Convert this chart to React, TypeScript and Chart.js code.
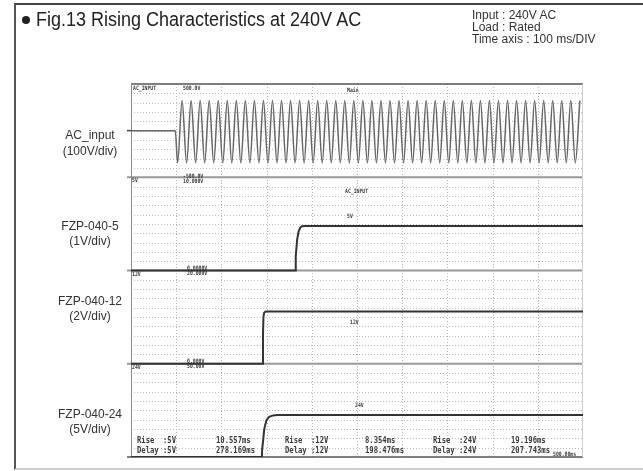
import React, { useEffect, useRef } from "react";
import { Chart, registerables } from "chart.js";

Chart.register(...registerables);

// ---------------- data ----------------
// time axis: 100 ms/div, 10 divisions
const timeMin = 0;
const timeMax = 1000;
const totalDivs = 40; // four stacked channel windows, 10 div each

const channelNames = ["AC_input", "FZP-040-5", "FZP-040-12", "FZP-040-24"];
const channelScales = ["(100V/div)", "(1V/div)", "(2V/div)", "(5V/div)"];
const voltsPerDiv = [100, 1, 2, 5];
const zeroDiv = [35, 20, 10, 0];

// AC input: off until onset, then 50 Hz mains (peak every 10 ms)
const acOnsetMs = 98;
const acFirstPeakMs = 103;
const acPeakSpacingMs = 10;
const acPeakVolts = [
  -346, 322, -346, 322, -346, 322, -346, 322, -346, 322,
  -346, 322, -346, 322, -346, 322, -346, 322, -346, 322,
  -346, 322, -346, 322, -346, 322, -346, 322, -346, 322,
  -346, 322, -346, 322, -346, 322, -346, 322, -346, 322,
  -346, 322, -346, 322, -346, 322, -346, 322, -346, 322,
  -346, 322, -346, 322, -346, 322, -346, 322, -346, 322,
  -346, 322, -346, 322, -346, 322, -346, 322, -346, 322,
  -346, 322, -346, 322, -346, 322, -346, 322, -346, 322,
  -346, 322, -346, 322, -346, 322, -346, 322, -346, 322,
];

// output 5V
const v5Times = [0, 363, 364.5, 367.5, 371, 374.5, 378, 384, 1000];
const v5Volts = [0, 0, 1.5, 3.3, 4.2, 4.6, 4.75, 4.78, 4.78];

// output 12V
const v12Times = [0, 291, 292, 293, 294.5, 297, 301, 1000];
const v12Volts = [0, 0, 6, 10, 10.9, 11.15, 11.2, 11.2];

// output 24V
const v24Times = [0, 289.5, 290.1, 292.4, 294.6, 296.8, 300.1, 305.6, 314.5, 323.4, 1000];
const v24Volts = [0, 0, 3.8, 9.1, 14.5, 17.2, 19.9, 21.5, 22.3, 22.55, 22.55];

// measurement read-out of the scope
const riseLabels = ["Rise  :5V", "Rise  :12V", "Rise  :24V"];
const riseValues = ["10.557ms", "8.354ms", "19.196ms"];
const delayLabels = ["Delay :5V", "Delay :12V", "Delay :24V"];
const delayValues = ["278.169ms", "198.476ms", "207.743ms"];
const timeReadout = "500.00ms";

const titleText = "Fig.13 Rising Characteristics at 240V AC";
const infoLines = ["Input : 240V AC", "Load : Rated", "Time axis : 100 ms/DIV"];

// ---------------- helpers ----------------
function toDivs(ch: number, volts: number) {
  return zeroDiv[ch] + volts / voltsPerDiv[ch];
}

function acPoints() {
  const pts: { x: number; y: number }[] = [
    { x: timeMin, y: toDivs(0, 0) },
    { x: acOnsetMs, y: toDivs(0, 0) },
  ];
  acPeakVolts.forEach((v, i) => {
    pts.push({ x: acFirstPeakMs + i * acPeakSpacingMs, y: toDivs(0, v) });
  });
  return pts;
}

function dcPoints(ch: number, times: number[], volts: number[]) {
  return times.map((t, i) => ({ x: t, y: toDivs(ch, volts[i]) }));
}

const scopePlugin = {
  id: "scopeGrid",
  beforeDatasetsDraw(chart: any) {
    const { ctx, chartArea: a, scales } = chart;
    const xs = scales.x;
    const ys = scales.y;
    ctx.save();
    // horizontal dotted grid
    ctx.strokeStyle = "#bcbcbc";
    ctx.lineWidth = 1;
    ctx.setLineDash([1, 2]);
    for (let d = 1; d < totalDivs; d++) {
      if (d % 10 === 0) continue;
      const y = Math.round(ys.getPixelForValue(d)) + 0.5;
      ctx.beginPath();
      ctx.moveTo(a.left, y);
      ctx.lineTo(a.right, y);
      ctx.stroke();
    }
    // vertical dotted grid every 100 ms
    ctx.strokeStyle = "#b8b8b8";
    for (let t = 100; t < timeMax; t += 100) {
      const x = Math.round(xs.getPixelForValue(t)) + 0.5;
      ctx.beginPath();
      ctx.moveTo(x, a.top);
      ctx.lineTo(x, a.bottom);
      ctx.stroke();
    }
    ctx.setLineDash([]);
    // window separators
    ctx.strokeStyle = "#999";
    ctx.lineWidth = 2;
    [10, 20, 30].forEach((d) => {
      const y = ys.getPixelForValue(d);
      ctx.beginPath();
      ctx.moveTo(a.left - 4, y);
      ctx.lineTo(a.right, y);
      ctx.stroke();
    });
    // frame of the scope
    ctx.strokeStyle = "#555";
    ctx.lineWidth = 1.5;
    ctx.beginPath();
    ctx.moveTo(a.left, a.top);
    ctx.lineTo(a.right, a.top);
    ctx.stroke();
    ctx.beginPath();
    ctx.moveTo(a.left - 4, a.bottom);
    ctx.lineTo(a.right, a.bottom);
    ctx.stroke();
    ctx.strokeStyle = "#8a8a8a";
    ctx.lineWidth = 1;
    ctx.beginPath();
    ctx.moveTo(a.left + 0.5, a.top);
    ctx.lineTo(a.left + 0.5, a.bottom);
    ctx.stroke();
    ctx.strokeStyle = "#cfcfcf";
    ctx.beginPath();
    ctx.moveTo(a.right - 0.5, a.top);
    ctx.lineTo(a.right - 0.5, a.bottom);
    ctx.stroke();
    // AC zero marker
    ctx.strokeStyle = "#444";
    ctx.lineWidth = 1.5;
    const yac = ys.getPixelForValue(zeroDiv[0]);
    ctx.beginPath();
    ctx.moveTo(a.left - 4, yac);
    ctx.lineTo(a.left, yac);
    ctx.stroke();
    ctx.restore();
  },
  afterDatasetsDraw(chart: any) {
    const { ctx, chartArea: a, scales } = chart;
    const ys = scales.y;
    ctx.save();
    ctx.fillStyle = "#3a3a3a";
    ctx.textBaseline = "alphabetic";
    const tiny = (txt: string, x: number, y: number, size = 6) => {
      ctx.save();
      ctx.translate(x, y);
      ctx.scale(0.8, 1);
      ctx.font = `bold ${size}px "DejaVu Sans Mono"`;
      ctx.fillText(txt, 0, 0);
      ctx.restore();
    };
    // small scope annotations
    tiny("AC_INPUT", a.left + 2, a.top + 6);
    tiny("500.0V", a.left + 52, a.top + 6);
    tiny("Main", a.left + 216, a.top + 8);
    tiny("AC_INPUT", a.left + 214, ys.getPixelForValue(28.3));
    tiny("-500.0V", a.left + 52, ys.getPixelForValue(30) + 1);
    tiny("10.000V", a.left + 52, ys.getPixelForValue(30) + 6);
    tiny("5V", a.left + 1, ys.getPixelForValue(30) + 5);
    tiny("5V", a.left + 216, ys.getPixelForValue(25.6));
    tiny("0.0000V", a.left + 56, ys.getPixelForValue(20) - 1);
    tiny("20.000V", a.left + 56, ys.getPixelForValue(20) + 4);
    tiny("12V", a.left + 1, ys.getPixelForValue(20) + 5);
    tiny("12V", a.left + 219, ys.getPixelForValue(14.3));
    tiny("0.000V", a.left + 56, ys.getPixelForValue(10) - 1);
    tiny("50.00V", a.left + 56, ys.getPixelForValue(10) + 4);
    tiny("24V", a.left + 1, ys.getPixelForValue(10) + 5);
    tiny("24V", a.left + 224, ys.getPixelForValue(5.4));
    // measurement read-out
    const labelX = [6, 154, 302];
    const valueX = [85, 234, 380];
    for (let i = 0; i < 3; i++) {
      tiny(riseLabels[i], a.left + labelX[i], a.bottom - 14, 9);
      tiny(riseValues[i], a.left + valueX[i], a.bottom - 14, 9);
      tiny(delayLabels[i], a.left + labelX[i], a.bottom - 4, 9);
      tiny(delayValues[i], a.left + valueX[i], a.bottom - 4, 9);
    }
    tiny(timeReadout, a.right - 30, a.bottom - 1, 6);
    ctx.restore();
  },
};

function ScopeChart() {
  const ref = useRef<HTMLCanvasElement | null>(null);
  useEffect(() => {
    if (!ref.current) return;
    const line = (data: any[], color: string, width: number, smooth = false) => ({
      data,
      borderColor: color,
      borderWidth: width,
      pointRadius: 0,
      tension: 0,
      cubicInterpolationMode: smooth ? "monotone" : "default",
      fill: false,
    });
    const chart = new Chart(ref.current, {
      type: "line",
      data: {
        datasets: [
          line(acPoints(), "#666", 1.5, true),
          line(dcPoints(1, v5Times, v5Volts), "#333", 2),
          line(dcPoints(2, v12Times, v12Volts), "#333", 2),
          line(dcPoints(3, v24Times, v24Volts), "#333", 2),
        ] as any,
      },
      options: {
        animation: false,
        responsive: false,
        devicePixelRatio: 1,
        parsing: false as any,
        layout: { padding: { left: 131, right: 60, top: 84, bottom: 14 } },
        plugins: { legend: { display: false }, tooltip: { enabled: false } },
        scales: {
          x: { type: "linear", min: timeMin, max: timeMax, display: false },
          y: { type: "linear", min: 0, max: totalDivs, display: false },
        },
      },
      plugins: [scopePlugin],
    });
    return () => chart.destroy();
  }, []);
  return (
    <canvas
      ref={ref}
      width={643}
      height={471}
      style={{ position: "absolute", left: 0, top: 0, width: 643, height: 471 }}
    />
  );
}

const labelTops = [
  [128, 144],
  [219, 234],
  [294, 309],
  [407, 422],
];

export default function App() {
  return (
    <div
      style={{
        position: "absolute",
        left: 0,
        top: 0,
        width: 643,
        height: 471,
        overflow: "hidden",
        background: "#fff",
        fontFamily: '"Liberation Sans", Arial, sans-serif',
      }}
    >
      <div
        style={{
          position: "absolute",
          left: 14,
          top: 3,
          width: 629,
          height: 467,
          borderLeft: "2px solid #555",
          borderTop: "2px solid #444",
          borderBottom: "2px solid #cccccc",
          boxSizing: "border-box",
        }}
      />
      <ScopeChart />
      <div
        style={{
          position: "absolute",
          left: 22,
          top: 16,
          width: 8,
          height: 8,
          borderRadius: 4,
          background: "#222",
        }}
      />
      <div
        style={{
          position: "absolute",
          left: 36,
          top: 8,
          fontSize: 20,
          lineHeight: "22px",
          color: "#222",
          whiteSpace: "nowrap",
          transform: "scaleX(0.9)",
          transformOrigin: "left top",
        }}
      >
        {titleText}
      </div>
      <div
        style={{
          position: "absolute",
          left: 472,
          top: 9,
          fontSize: 12,
          lineHeight: "12px",
          color: "#333",
          whiteSpace: "nowrap",
        }}
      >
        {infoLines.map((s) => (
          <div key={s}>{s}</div>
        ))}
      </div>
      {channelNames.map((name, i) => (
        <React.Fragment key={name}>
          <div
            style={{
              position: "absolute",
              left: 40,
              width: 100,
              top: labelTops[i][0],
              textAlign: "center",
              fontSize: 12,
              lineHeight: "14px",
              color: "#333",
            }}
          >
            {name}
          </div>
          <div
            style={{
              position: "absolute",
              left: 40,
              width: 100,
              top: labelTops[i][1],
              textAlign: "center",
              fontSize: 12,
              lineHeight: "14px",
              color: "#333",
            }}
          >
            {channelScales[i]}
          </div>
        </React.Fragment>
      ))}
    </div>
  );
}
